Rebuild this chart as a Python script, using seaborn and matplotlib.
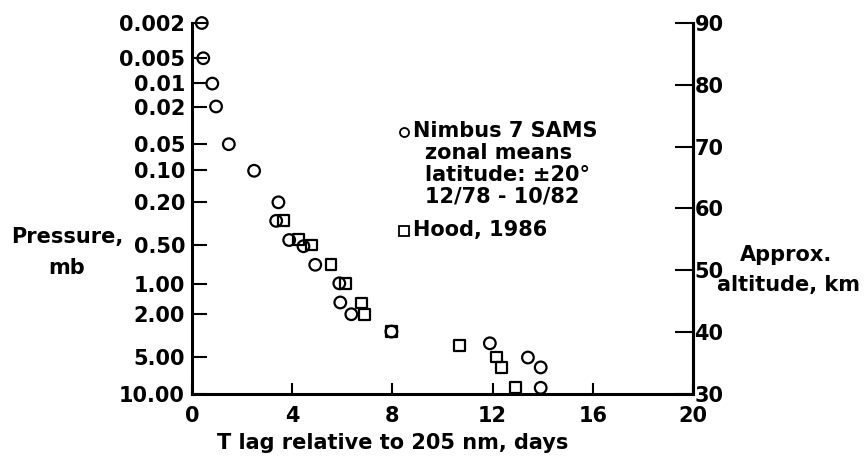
import matplotlib
matplotlib.use("Agg")
import matplotlib.pyplot as plt
import seaborn as sns
import pandas as pd

# ---- data ----
sams_lag = [0.39, 0.45, 0.81, 0.96, 1.47, 2.48, 3.45, 3.36, 3.88, 4.45, 4.92,
            5.88, 5.92, 6.36, 7.96, 11.89, 13.41, 13.92, 13.92]
sams_alt = [90.0, 84.3, 80.2, 76.5, 70.4, 66.1, 61.0, 58.0, 54.9, 53.9, 50.9,
            47.9, 44.8, 42.9, 40.1, 38.2, 35.9, 34.3, 31.0]
hood_lag = [3.65, 4.25, 4.76, 5.55, 6.12, 6.76, 6.89, 7.96, 10.69, 12.16, 12.35, 12.92]
hood_alt = [58.0, 55.0, 54.1, 50.9, 47.9, 44.7, 42.9, 40.1, 37.9, 36.0, 34.3, 31.0]

pressure_labels = ["0.002", "0.005", "0.01", "0.02", "0.05", "0.10", "0.20",
                   "0.50", "1.00", "2.00", "5.00", "10.00"]
pressure_alt = [90.0, 84.34, 80.3, 76.4, 70.4, 66.2, 61.05, 54.1, 47.8, 42.9, 36.0, 30.0]
altitude_ticks = [30, 40, 50, 60, 70, 80, 90]
lag_ticks = [0, 4, 8, 12, 16, 20]

sams = pd.DataFrame({"lag": sams_lag, "alt": sams_alt})
hood = pd.DataFrame({"lag": hood_lag, "alt": hood_alt})

sns.set_style("white")
plt.rcParams["font.family"] = ["DejaVu Sans"]
plt.rcParams["font.weight"] = "bold"

W, H = 865, 459
fig = plt.figure(figsize=(W / 100, H / 100), dpi=100)
ax = fig.add_axes([192 / W, 1 - 394 / H, (693 - 192) / W, (394 - 23) / H])

sns.scatterplot(data=sams, x="lag", y="alt", ax=ax, marker="o", s=70,
                facecolor="none", edgecolor="black", linewidth=1.6, clip_on=False)
sns.scatterplot(data=hood, x="lag", y="alt", ax=ax, marker="s", s=60,
                facecolor="none", edgecolor="black", linewidth=1.6, clip_on=False)

ax.set_xlim(0, 20)
ax.set_ylim(30, 90)
ax.set_xlabel("")
ax.set_ylabel("")
for s in ["left", "bottom", "right"]:
    ax.spines[s].set_visible(True)
    ax.spines[s].set_linewidth(2.2)
    ax.spines[s].set_color("black")
ax.spines["top"].set_visible(False)

ax.set_xticks(lag_ticks)
ax.set_xticklabels([str(v) for v in lag_ticks])
ax.set_yticks(pressure_alt)
ax.set_yticklabels(pressure_labels)
ax.tick_params(axis="x", direction="in", length=8, width=1.5, pad=9,
               labelsize=15, bottom=True, colors="black")
ax.tick_params(axis="y", direction="in", length=11, width=1.5, pad=5,
               labelsize=15, left=True, colors="black")

ax2 = ax.twinx()
ax2.set_ylim(30, 90)
ax2.set_yticks(altitude_ticks)
ax2.set_yticklabels([str(v) for v in altitude_ticks])
ax2.tick_params(axis="y", direction="in", length=13, width=1.5, pad=1,
                labelsize=15, right=True, colors="black")
for s in ["left", "bottom", "top"]:
    ax2.spines[s].set_visible(False)
ax2.spines["right"].set_linewidth(2.2)
ax2.spines["right"].set_color("black")
ax2.grid(False)
ax.grid(False)


def fx(px):
    return px / W


def fy(py):
    return 1 - py / H


tk = dict(fontsize=15, fontweight="bold", va="center", color="black")
fig.text(fx(217), fy(443), "T lag relative to 205 nm, days", ha="left", **tk)
fig.text(fx(67), fy(237), "Pressure,", ha="center", **tk)
fig.text(fx(67), fy(268), "mb", ha="center", **tk)
fig.text(fx(740), fy(255), "Approx.", ha="left", **tk)
fig.text(fx(717), fy(285), "altitude, km", ha="left", **tk)

# legend-like annotation
fig.text(fx(413), fy(131), "Nimbus 7 SAMS", ha="left", **tk)
fig.text(fx(425), fy(153), "zonal means", ha="left", **tk)
fig.text(fx(425), fy(175), "latitude: \u00b120\u00b0", ha="left", **tk)
fig.text(fx(425), fy(197), "12/78 - 10/82", ha="left", **tk)
fig.text(fx(413), fy(230), "Hood, 1986", ha="left", **tk)
ax.plot([fx(404)], [fy(132)], marker="o", ms=6.5, mfc="none", mec="black",
        mew=1.3, transform=fig.transFigure, clip_on=False)
ax.plot([fx(404)], [fy(231)], marker="s", ms=6.5, mfc="none", mec="black",
        mew=1.3, transform=fig.transFigure, clip_on=False)

fig.savefig("out.png", dpi=100)
